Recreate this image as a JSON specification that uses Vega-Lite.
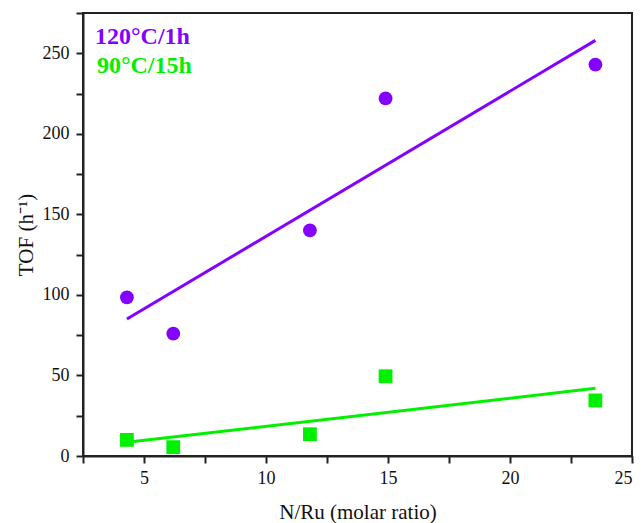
{
  "$schema": "https://vega.github.io/schema/vega-lite/v6.json",
  "width": 549,
  "height": 443,
  "autosize": "none",
  "padding": {"left": 83, "top": 13, "right": 10, "bottom": 67},
  "background": "white",
  "config": {
    "view": {"stroke": "#222", "strokeWidth": 2},
    "font": "Liberation Serif",
    "axis": {"labelFont": "Liberation Serif", "titleFont": "Liberation Serif"},
    "text": {"font": "Liberation Serif"}
  },
  "datasets": {
    "points": [
      {"x": 4.3, "y": 98.5, "series": "120°C/1h"},
      {"x": 6.2, "y": 76, "series": "120°C/1h"},
      {"x": 11.8, "y": 140, "series": "120°C/1h"},
      {"x": 14.9, "y": 222, "series": "120°C/1h"},
      {"x": 23.5, "y": 243, "series": "120°C/1h"},
      {"x": 4.3, "y": 10, "series": "90°C/15h"},
      {"x": 6.2, "y": 5.5, "series": "90°C/15h"},
      {"x": 11.8, "y": 13.5, "series": "90°C/15h"},
      {"x": 14.9, "y": 49.5, "series": "90°C/15h"},
      {"x": 23.5, "y": 34.5, "series": "90°C/15h"}
    ],
    "fits": [
      {"x": 4.3, "y": 85, "series": "120°C/1h"},
      {"x": 23.5, "y": 258, "series": "120°C/1h"},
      {"x": 4.3, "y": 8.5, "series": "90°C/15h"},
      {"x": 23.5, "y": 42, "series": "90°C/15h"}
    ],
    "labels": [
      {"x": 2.99, "y": 256, "series": "120°C/1h"},
      {"x": 3.07, "y": 237.5, "series": "90°C/15h"}
    ]
  },
  "encoding": {
    "x": {
      "field": "x", "type": "quantitative",
      "scale": {"domain": [2.5, 25], "nice": false, "zero": false},
      "axis": {
        "title": "N/Ru (molar ratio)",
        "values": [2.5, 5, 7.5, 10, 12.5, 15, 17.5, 20, 22.5, 25],
        "labelExpr": "datum.value % 5 === 0 ? datum.label : ''",
        "grid": false,
        "domainColor": "#222", "domainWidth": 2,
        "tickColor": "#222", "tickWidth": 2, "tickSize": 7,
        "labelFont": "Liberation Serif", "labelFontSize": 18, "labelColor": "#111",
        "labelPadding": 6,
        "titleFont": "Liberation Serif", "titleFontSize": 21, "titleFontWeight": "normal", "titleColor": "#111",
        "titlePadding": 14
      }
    },
    "y": {
      "field": "y", "type": "quantitative",
      "scale": {"domain": [0, 275], "nice": false},
      "axis": {
        "title": "TOF (h⁻¹)",
        "values": [0, 25, 50, 75, 100, 125, 150, 175, 200, 225, 250, 275],
        "labelExpr": "datum.value % 50 === 0 && datum.value < 275 ? datum.label : ''",
        "grid": false,
        "domainColor": "#222", "domainWidth": 2,
        "tickColor": "#222", "tickWidth": 2, "tickSize": 7,
        "labelFont": "Liberation Serif", "labelFontSize": 18, "labelColor": "#111",
        "labelPadding": 7,
        "titleFont": "Liberation Serif", "titleFontSize": 21, "titleFontWeight": "normal", "titleColor": "#111",
        "titlePadding": 6
      }
    },
    "color": {
      "field": "series", "type": "nominal",
      "scale": {"domain": ["120°C/1h", "90°C/15h"], "range": ["#8400ff", "#00f000"]},
      "legend": null
    }
  },
  "layer": [
    {
      "data": {"name": "fits"},
      "mark": {"type": "line", "strokeWidth": 3},
      "encoding": {"detail": {"field": "series"}}
    },
    {
      "data": {"name": "points"},
      "mark": {"type": "point", "filled": true, "opacity": 1},
      "encoding": {
        "shape": {
          "field": "series", "type": "nominal",
          "scale": {"domain": ["120°C/1h", "90°C/15h"], "range": ["circle", "square"]},
          "legend": null
        },
        "size": {"value": 190}
      }
    },
    {
      "data": {"name": "labels"},
      "mark": {"type": "text", "align": "left", "baseline": "alphabetic", "font": "Liberation Serif", "fontSize": 24, "fontWeight": "bold"},
      "encoding": {"text": {"field": "series"}}
    }
  ]
}
